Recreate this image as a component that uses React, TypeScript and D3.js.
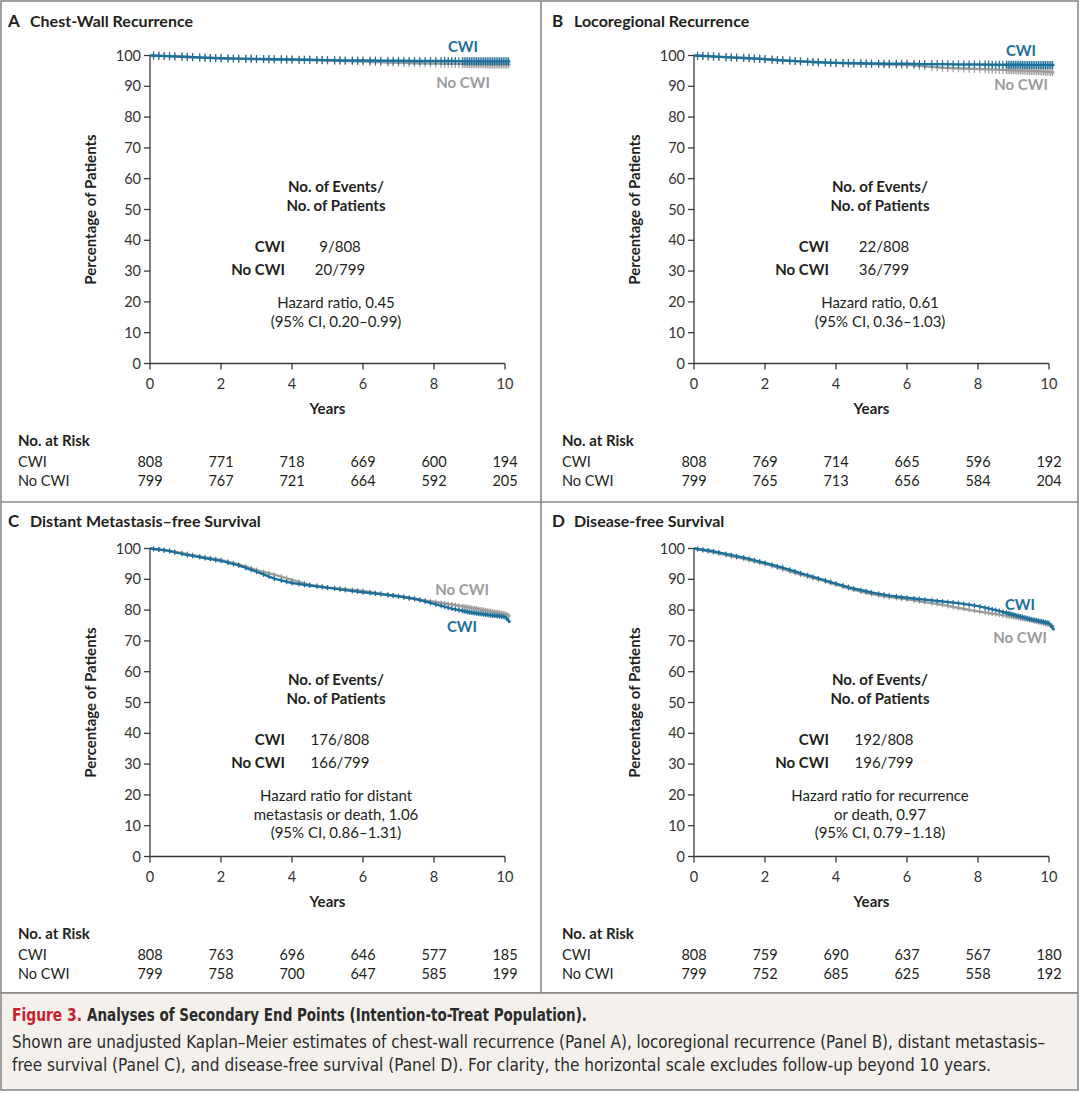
import React, { useEffect } from "react";
import * as d3 from "d3";

// ---- data ----
const yearTicks = [0, 2, 4, 6, 8, 10];
const pctTicks = [0, 10, 20, 30, 40, 50, 60, 70, 80, 90, 100];

// follow-up times (years) at which each curve was read
const curveYears = [0, 0.5, 1, 1.5, 2, 2.5, 3, 3.5, 4, 4.5, 5, 5.5, 6, 6.5, 7, 7.5, 8, 8.5, 9, 9.5, 10, 10.15];

const chestWallCwi = [100, 99.8, 99.6, 99.3, 99.1, 99.0, 98.9, 98.8, 98.7, 98.6, 98.5, 98.4, 98.4, 98.3, 98.3, 98.2, 98.2, 98.2, 98.1, 98.1, 98.1, 98.1];
const chestWallNoCwi = [100, 99.8, 99.5, 99.3, 99.1, 98.9, 98.8, 98.7, 98.6, 98.5, 98.4, 98.2, 98.0, 97.8, 97.6, 97.5, 97.4, 97.3, 97.2, 97.1, 97.1, 97.1];

const locoCwi = [100, 99.7, 99.4, 99.1, 98.8, 98.4, 98.1, 97.8, 97.6, 97.5, 97.4, 97.3, 97.3, 97.2, 97.2, 97.1, 97.1, 97.0, 97.0, 96.9, 96.9, 96.9];
const locoNoCwi = [100, 99.7, 99.4, 99.2, 98.9, 98.5, 98.1, 97.8, 97.6, 97.4, 97.2, 97.1, 97.0, 96.5, 96.0, 95.8, 95.6, 95.4, 95.2, 95.0, 94.7, 94.5];

const dmfsCwi = [100, 99.3, 98.0, 97.0, 96.0, 94.5, 92.5, 90.2, 88.8, 88.0, 87.3, 86.5, 85.8, 85.2, 84.5, 83.6, 82.0, 80.5, 79.3, 78.5, 77.8, 76.0];
const dmfsNoCwi = [100, 99.3, 98.3, 97.2, 96.3, 94.8, 93.0, 91.5, 89.8, 88.2, 87.3, 86.8, 86.2, 85.3, 84.5, 83.5, 82.7, 81.8, 80.8, 79.8, 78.8, 78.0];

const dfsCwi = [100, 99.2, 98.0, 96.8, 95.3, 93.8, 92.0, 90.3, 88.6, 87.0, 85.7, 84.7, 84.0, 83.4, 82.8, 82.2, 81.3, 80.0, 78.5, 77.0, 75.8, 73.5];
const dfsNoCwi = [100, 98.9, 97.6, 96.4, 95.0, 93.3, 91.5, 90.0, 88.3, 86.6, 85.2, 84.2, 83.5, 82.6, 81.7, 80.6, 79.6, 78.7, 77.8, 76.7, 75.3, 74.5];

// censoring marks (years); very dense towards the end of follow-up
const censorYears = [
  0.1, 0.25, 0.4, 0.55, 0.7, 0.9, 1.05, 1.2, 1.4, 1.55, 1.7, 1.85, 2.0, 2.2, 2.35, 2.5, 2.7, 2.85,
  3.0, 3.2, 3.35, 3.5, 3.7, 3.85, 4.0, 4.2, 4.35, 4.5, 4.7, 4.85, 5.0, 5.2, 5.35, 5.5, 5.7, 5.85,
  6.0, 6.2, 6.35, 6.5, 6.7, 6.85, 7.0, 7.15, 7.3, 7.45, 7.6, 7.75, 7.9, 8.05, 8.2, 8.3, 8.4, 8.5,
  8.6, 8.7, 8.8, 8.85, 8.9, 8.95, 9.0, 9.05, 9.1, 9.15, 9.2, 9.25, 9.3, 9.35, 9.4, 9.45, 9.5, 9.55,
  9.6, 9.65, 9.7, 9.75, 9.8, 9.85, 9.9, 9.95, 10.0, 10.05, 10.1,
];

const riskA = { cwi: [808, 771, 718, 669, 600, 194], noCwi: [799, 767, 721, 664, 592, 205] };
const riskB = { cwi: [808, 769, 714, 665, 596, 192], noCwi: [799, 765, 713, 656, 584, 204] };
const riskC = { cwi: [808, 763, 696, 646, 577, 185], noCwi: [799, 758, 700, 647, 585, 199] };
const riskD = { cwi: [808, 759, 690, 637, 567, 180], noCwi: [799, 752, 685, 625, 558, 192] };

const BLUE = "#1c6f9b";
const GRAY = "#9c9c9c";
const INK = "#231f20";
const SANS = "Lato, 'Open Sans', sans-serif";
const NARROW = "'Liberation Sans Narrow', 'DejaVu Sans Condensed', Lato, sans-serif";

interface PanelDef {
  letter: string;
  title: string;
  ox: number;
  oy: number;
  titleY: number;
  cwi: number[];
  noCwi: number[];
  risk: { cwi: number[]; noCwi: number[] };
  events: [string, string];
  hr: string[];
  cwiLabelY: number;
  noCwiLabelY: number;
  labelX: number;
  tickH: number;
}

const panels: PanelDef[] = [
  {
    letter: "A", title: "Chest-Wall Recurrence", ox: 0, oy: 0, titleY: 27,
    cwi: chestWallCwi, noCwi: chestWallNoCwi, risk: riskA,
    events: ["9/808", "20/799"], hr: ["Hazard ratio, 0.45", "(95% CI, 0.20\u20130.99)"],
    cwiLabelY: 52, noCwiLabelY: 88, labelX: 463, tickH: 4,
  },
  {
    letter: "B", title: "Locoregional Recurrence", ox: 544, oy: 0, titleY: 27,
    cwi: locoCwi, noCwi: locoNoCwi, risk: riskB,
    events: ["22/808", "36/799"], hr: ["Hazard ratio, 0.61", "(95% CI, 0.36\u20131.03)"],
    cwiLabelY: 56, noCwiLabelY: 90, labelX: 477, tickH: 4,
  },
  {
    letter: "C", title: "Distant Metastasis\u2013free Survival", ox: 0, oy: 493, titleY: 34,
    cwi: dmfsCwi, noCwi: dmfsNoCwi, risk: riskC,
    events: ["176/808", "166/799"], hr: ["Hazard ratio for distant", "metastasis or death, 1.06", "(95% CI, 0.86\u20131.31)"],
    cwiLabelY: 139, noCwiLabelY: 102, labelX: 462, tickH: 2.5,
  },
  {
    letter: "D", title: "Disease-free Survival", ox: 544, oy: 493, titleY: 34,
    cwi: dfsCwi, noCwi: dfsNoCwi, risk: riskD,
    events: ["192/808", "196/799"], hr: ["Hazard ratio for recurrence", "or death, 0.97", "(95% CI, 0.79\u20131.18)"],
    cwiLabelY: 117, noCwiLabelY: 150, labelX: 476, tickH: 2.5,
  },
];

const x = d3.scaleLinear().domain([0, 10]).range([150, 505]);
const y = d3.scaleLinear().domain([0, 100]).range([363.5, 55.5]);

const KMCurve: React.FC<{ values: number[]; color: string; tickH: number }> = ({ values, color, tickH }) => {
  const line = d3
    .line<number>()
    .x((_, i) => x(curveYears[i]))
    .y((v) => y(v));
  const at = d3.scaleLinear().domain(curveYears).range(values);
  return (
    <g>
      <path d={line(values) || ""} fill="none" stroke={color} strokeWidth={2.4} />
      {censorYears.map((t, i) => (
        <line key={i} x1={x(t)} x2={x(t)} y1={y(at(t)) - tickH} y2={y(at(t)) + tickH} stroke={color} strokeWidth={1.2} />
      ))}
    </g>
  );
};

const Panel: React.FC<{ p: PanelDef }> = ({ p }) => {
  const [x0, x1] = x.range();
  const [y0, y1] = y.range();
  return (
    <g transform={`translate(${p.ox},${p.oy})`} fontFamily={SANS} fill={INK}>
      <text x={8} y={p.titleY} fontSize={17} fontWeight={700}>{p.letter}</text>
      <text x={30} y={p.titleY} fontSize={16} fontWeight={700}>{p.title}</text>

      {/* axes */}
      <g stroke="#3a3a3a" strokeWidth={1.3}>
        <line x1={x0} x2={x0} y1={y1} y2={y0} />
        <line x1={x0} x2={x1} y1={y0} y2={y0} />
        {pctTicks.map((t) => (
          <line key={t} x1={x0 - 6} x2={x0} y1={y(t)} y2={y(t)} />
        ))}
        {yearTicks.map((t) => (
          <line key={t} x1={x(t)} x2={x(t)} y1={y0} y2={y0 + 6} />
        ))}
      </g>
      {pctTicks.map((t) => (
        <text key={t} x={x0 - 9} y={y(t) + 5} fontSize={14.5} textAnchor="end" fill="#333">{t}</text>
      ))}
      {yearTicks.map((t) => (
        <text key={t} x={x(t)} y={y0 + 25} fontSize={14.5} textAnchor="middle" fill="#333">{t}</text>
      ))}
      <text x={(x0 + x1) / 2} y={414} fontSize={15} fontWeight={700} textAnchor="middle">Years</text>
      <text transform={`translate(96,${(y0 + y1) / 2}) rotate(-90)`} fontSize={15} fontWeight={700} textAnchor="middle">
        Percentage of Patients
      </text>

      {/* curves */}
      <KMCurve values={p.noCwi} color={GRAY} tickH={p.tickH} />
      <KMCurve values={p.cwi} color={BLUE} tickH={p.tickH} />
      <text x={p.labelX} y={p.cwiLabelY} fontSize={15} fontWeight={700} textAnchor="middle" fill={BLUE}>CWI</text>
      <text x={p.labelX} y={p.noCwiLabelY} fontSize={15} fontWeight={700} textAnchor="middle" fill={GRAY}>No CWI</text>

      {/* event summary */}
      <g fontSize={15}>
        <text x={336} y={192} fontWeight={700} textAnchor="middle">No. of Events/</text>
        <text x={336} y={211} fontWeight={700} textAnchor="middle">No. of Patients</text>
        <text x={285} y={252} fontWeight={700} textAnchor="end">CWI</text>
        <text x={285} y={275} fontWeight={700} textAnchor="end">No CWI</text>
        <text x={340} y={252} textAnchor="middle">{p.events[0]}</text>
        <text x={340} y={275} textAnchor="middle">{p.events[1]}</text>
        {p.hr.map((s, i) => (
          <text key={i} x={336} y={308 + i * 18.7} textAnchor="middle">{s}</text>
        ))}
      </g>

      {/* number at risk */}
      <g fontSize={14.5}>
        <text x={18} y={446} fontSize={15} fontWeight={700}>No. at Risk</text>
        <text x={18} y={467}>CWI</text>
        <text x={18} y={486}>No CWI</text>
        {yearTicks.map((t, i) => (
          <text key={"c" + t} x={x(t)} y={467} textAnchor="middle">{p.risk.cwi[i]}</text>
        ))}
        {yearTicks.map((t, i) => (
          <text key={"n" + t} x={x(t)} y={486} textAnchor="middle">{p.risk.noCwi[i]}</text>
        ))}
      </g>
    </g>
  );
};

const App: React.FC = () => {
  useEffect(() => {
    document.body.style.margin = "0";
  }, []);
  return (
    <svg width={1080} height={1093} viewBox="0 0 1080 1093" style={{ display: "block", background: "#fff" }}>
      {/* frame */}
      <g stroke="#8a8a8a" strokeWidth={1.6} fill="none">
        <rect x={1} y={1} width={1077} height={992} />
        <line x1={541} x2={541} y1={1} y2={993} />
        <line x1={1} x2={1078} y1={502} y2={502} />
      </g>
      {panels.map((p) => (
        <Panel key={p.letter} p={p} />
      ))}
      {/* caption */}
      <rect x={1} y={993} width={1077} height={97} fill="#f4f1ec" stroke="#8a8a8a" strokeWidth={1.6} />
      <g fontFamily={NARROW} fill="#2b2b2b">
        <text x={12} y={1021} fontSize={17} fontWeight={700} fill="#c8202f" textLength={70} lengthAdjust="spacingAndGlyphs">
          Figure 3.
        </text>
        <text x={87} y={1021} fontSize={17} fontWeight={700} textLength={500} lengthAdjust="spacingAndGlyphs">
          Analyses of Secondary End Points (Intention-to-Treat Population).
        </text>
        <text x={12} y={1048} fontSize={17} textLength={1033} lengthAdjust="spacingAndGlyphs">
          Shown are unadjusted Kaplan–Meier estimates of chest-wall recurrence (Panel A), locoregional recurrence (Panel B), distant metastasis–
        </text>
        <text x={12} y={1071} fontSize={17} textLength={979} lengthAdjust="spacingAndGlyphs">
          free survival (Panel C), and disease-free survival (Panel D). For clarity, the horizontal scale excludes follow-up beyond 10 years.
        </text>
      </g>
    </svg>
  );
};

export default App;
